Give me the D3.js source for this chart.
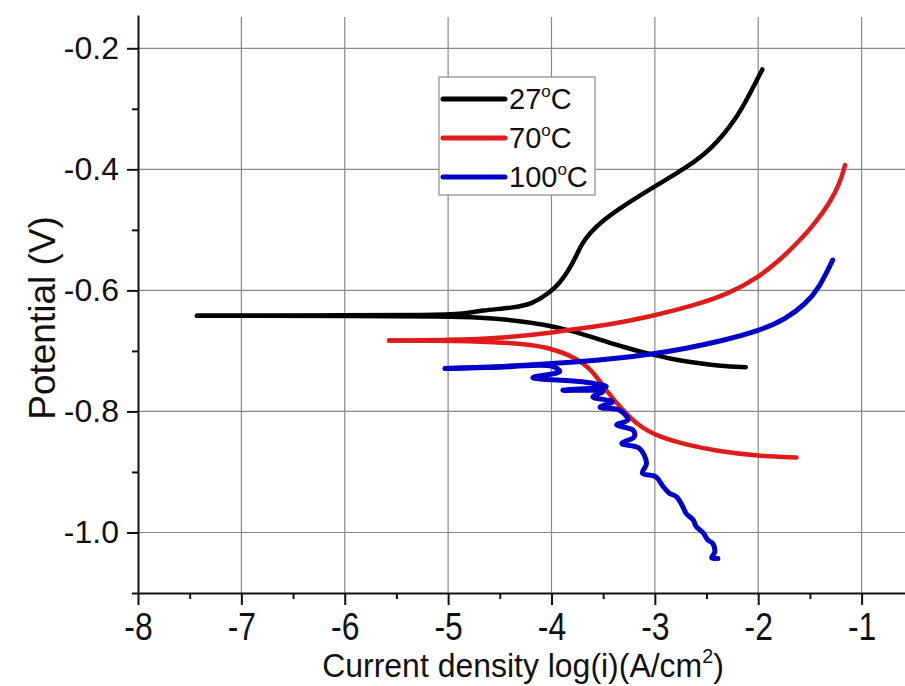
<!DOCTYPE html>
<html>
<head>
<meta charset="utf-8">
<script src="https://cdn.jsdelivr.net/npm/d3@7"></script>
<style>
  body { margin: 0; background: #fff; }
  svg { display: block; }
</style>
</head>
<body>
<script>
var w = 905;
var h = 686;

// tick values
var xTicks = [-8, -7, -6, -5, -4, -3, -2, -1];
var xMinor = [-7.5, -6.5, -5.5, -4.5, -3.5, -2.5, -1.5];
var yTicks = [-1.0, -0.8, -0.6, -0.4, -0.2];
var yMinor = [-1.1, -0.9, -0.7, -0.5, -0.3];

var seriesNames = ["27", "70", "100"];
var seriesColors = ["#000000", "#e01b1b", "#0000c8"];

// [log(i), potential], each branch read from the low-current end outwards
var cath27 = [
  [-7.43, -0.642], [-7.0, -0.642], [-6.0, -0.642], [-5.0, -0.643], [-4.69, -0.645],
  [-4.37, -0.649], [-4.05, -0.657], [-3.82, -0.666], [-3.55, -0.680], [-3.30, -0.694],
  [-3.05, -0.705], [-2.85, -0.713], [-2.60, -0.720], [-2.37, -0.725], [-2.12, -0.727]
];
var anod27 = [
  [-7.43, -0.642], [-7.0, -0.642], [-6.0, -0.641], [-5.2, -0.641], [-4.82, -0.639],
  [-4.69, -0.633], [-4.37, -0.629], [-4.18, -0.622], [-4.02, -0.604], [-3.92, -0.588],
  [-3.83, -0.566], [-3.76, -0.543], [-3.71, -0.524], [-3.63, -0.505], [-3.50, -0.484],
  [-3.31, -0.461], [-2.99, -0.427], [-2.70, -0.398], [-2.44, -0.365], [-2.21, -0.316],
  [-2.08, -0.275], [-1.96, -0.235]
];
var cath70 = [
  [-5.57, -0.683], [-5.18, -0.683], [-4.50, -0.685], [-4.21, -0.690], [-4.02, -0.695],
  [-3.76, -0.711], [-3.60, -0.733], [-3.47, -0.766], [-3.31, -0.798], [-3.15, -0.825],
  [-2.96, -0.842], [-2.70, -0.855], [-2.41, -0.865], [-1.99, -0.874], [-1.63, -0.876]
];
var anod70 = [
  [-5.57, -0.683], [-5.0, -0.682], [-4.47, -0.679], [-3.95, -0.669], [-3.83, -0.665],
  [-3.41, -0.656], [-2.99, -0.641], [-2.60, -0.624], [-2.28, -0.605], [-2.02, -0.581],
  [-1.79, -0.550], [-1.60, -0.518], [-1.45, -0.489], [-1.31, -0.456], [-1.21, -0.423],
  [-1.16, -0.393]
];
var cath100 = [
  [-5.03, -0.729], [-4.5, -0.727], [-4.0, -0.725], [-3.92, -0.734], [-4.18, -0.744],
  [-3.70, -0.751], [-3.47, -0.759], [-3.89, -0.765], [-3.50, -0.767], [-3.60, -0.776],
  [-3.41, -0.784], [-3.53, -0.793], [-3.34, -0.798], [-3.26, -0.814], [-3.37, -0.822],
  [-3.21, -0.831], [-3.20, -0.842], [-3.32, -0.853], [-3.15, -0.861], [-3.08, -0.886],
  [-3.12, -0.902], [-2.99, -0.908], [-2.92, -0.924], [-2.86, -0.935], [-2.79, -0.941],
  [-2.73, -0.957], [-2.70, -0.968], [-2.63, -0.979], [-2.60, -0.990], [-2.53, -1.001],
  [-2.49, -1.012], [-2.44, -1.018], [-2.42, -1.032], [-2.45, -1.042], [-2.39, -1.043]
];
var anod100 = [
  [-5.03, -0.729], [-4.5, -0.726], [-4.21, -0.723], [-3.73, -0.718], [-3.34, -0.712],
  [-3.02, -0.705], [-2.70, -0.696], [-2.37, -0.684], [-1.99, -0.667], [-1.73, -0.647],
  [-1.54, -0.622], [-1.41, -0.596], [-1.28, -0.550]
];
var branches = [
  {s: 0, pts: cath27}, {s: 0, pts: anod27},
  {s: 1, pts: cath70}, {s: 1, pts: anod70},
  {s: 2, pts: cath100}, {s: 2, pts: anod100}
];

var padLeft = 138, padRight = 905, padTop = 15, padBottom = 593;

var xScale = d3.scaleLinear()
    .domain([-8, -0.58])
    .range([padLeft, padRight]);
var yScale = d3.scaleLinear()
    .domain([-1.1, -0.145])
    .range([padBottom, padTop]);

// plain hyphen instead of the unicode minus
function hyph(fmt) {
    var f = d3.format(fmt);
    return function(d){ return f(d).replace("\u2212", "-"); };
}

var svg = d3.select("body")
    .append("svg")
    .attr("width", w)
    .attr("height", h);

// grid
svg.append("g")
    .selectAll("line")
    .data(xTicks.slice(1))
    .enter()
    .append("line")
    .attr("x1", function(d){ return xScale(d); })
    .attr("x2", function(d){ return xScale(d); })
    .attr("y1", padTop + 2)
    .attr("y2", padBottom)
    .attr("stroke", "#8a8a8a")
    .attr("stroke-width", 1.2);
svg.append("g")
    .selectAll("line")
    .data(yTicks)
    .enter()
    .append("line")
    .attr("x1", padLeft)
    .attr("x2", padRight)
    .attr("y1", function(d){ return yScale(d); })
    .attr("y2", function(d){ return yScale(d); })
    .attr("stroke", "#8a8a8a")
    .attr("stroke-width", 1.2);

// curves: smooth scans use a basis spline, the noisy 100C cathodic scan keeps its wiggles
var smoothLine = d3.line()
    .x(function(d){ return xScale(d[0]); })
    .y(function(d){ return yScale(d[1]); })
    .curve(d3.curveBasis);
var noisyLine = d3.line()
    .x(function(d){ return xScale(d[0]); })
    .y(function(d){ return yScale(d[1]); })
    .curve(d3.curveCatmullRom.alpha(0.5));

svg.selectAll("path.curve")
    .data(branches)
    .enter()
    .append("path")
    .attr("class", "curve")
    .attr("d", function(d){ return d.pts === cath100 ? noisyLine(d.pts) : smoothLine(d.pts); })
    .attr("fill", "none")
    .attr("stroke", function(d){ return seriesColors[d.s]; })
    .attr("stroke-width", function(d){ return d.s == 2 ? 5 : 4.5; })
    .attr("stroke-linejoin", "round")
    .attr("stroke-linecap", "round");

// axes
var xAxis = d3.axisBottom(xScale)
    .tickValues(xTicks)
    .tickSize(12)
    .tickSizeOuter(0)
    .tickPadding(7)
    .tickFormat(hyph("d"));
var gx = svg.append("g")
    .attr("class", "axis")
    .attr("transform", "translate(0," + padBottom + ")")
    .call(xAxis);
svg.append("g")
    .attr("transform", "translate(0," + padBottom + ")")
    .call(d3.axisBottom(xScale).tickValues(xMinor).tickSize(6).tickSizeOuter(0).tickFormat(""))
    .select(".domain").remove();

var yAxis = d3.axisLeft(yScale)
    .tickValues(yTicks)
    .tickSize(11)
    .tickSizeOuter(0)
    .tickPadding(8)
    .tickFormat(hyph(".1f"));
var gy = svg.append("g")
    .attr("class", "axis")
    .attr("transform", "translate(" + padLeft + ",0)")
    .call(yAxis);
svg.append("g")
    .attr("transform", "translate(" + padLeft + ",0)")
    .call(d3.axisLeft(yScale).tickValues(yMinor).tickSize(6).tickSizeOuter(0).tickFormat(""))
    .select(".domain").remove();

svg.selectAll("path.domain").attr("stroke", "#111").attr("stroke-width", 2);
svg.selectAll(".tick line").attr("stroke", "#111").attr("stroke-width", 2);

gx.selectAll("text")
    .attr("fill", "#111")
    .style("font-family", "'Liberation Sans', Arial, sans-serif")
    .style("font-size", "38px")
    .attr("dy", "0.75em")
    .attr("transform", "scale(0.84,1)");
gy.selectAll("text")
    .attr("fill", "#111")
    .style("font-family", "'Liberation Sans', Arial, sans-serif")
    .style("font-size", "32px");

// axis titles
var xTitle = svg.append("text")
    .attr("transform", "translate(523,677) scale(0.94,1)")
    .attr("text-anchor", "middle")
    .style("font-family", "'Liberation Sans', Arial, sans-serif")
    .style("font-size", "34px")
    .attr("fill", "#111");
xTitle.append("tspan").text("Current density log(i)(A/cm");
xTitle.append("tspan").text("2").attr("dy", -14).style("font-size", "21px");
xTitle.append("tspan").text(")").attr("dy", 14);

svg.append("text")
    .attr("transform", "translate(55,318) rotate(-90)")
    .attr("text-anchor", "middle")
    .style("font-family", "'Liberation Sans', Arial, sans-serif")
    .style("font-size", "37px")
    .attr("fill", "#111")
    .text("Potential (V)");

// legend
var legend = svg.append("g");
legend.append("rect")
    .attr("x", 439)
    .attr("y", 77)
    .attr("width", 156)
    .attr("height", 118)
    .attr("fill", "#fff")
    .attr("stroke", "#8a8a8a")
    .attr("stroke-width", 1.2);
var items = legend.selectAll("g.item")
    .data(seriesNames)
    .enter()
    .append("g")
    .attr("class", "item")
    .attr("transform", function(d, i){ return "translate(0," + (99 + i * 39) + ")"; });
items.append("line")
    .attr("x1", 443)
    .attr("x2", 505)
    .attr("stroke", function(d, i){ return seriesColors[i]; })
    .attr("stroke-width", 5)
    .attr("stroke-linecap", "round");
var labels = items.append("text")
    .attr("x", 509)
    .attr("y", 10)
    .style("font-family", "'Liberation Sans', Arial, sans-serif")
    .style("font-size", "29px")
    .attr("fill", "#111");
labels.append("tspan").text(function(d){ return d; });
labels.append("tspan").text("o").attr("dy", -12).style("font-size", "17px");
labels.append("tspan").text("C").attr("dy", 12);
</script>
</body>
</html>
